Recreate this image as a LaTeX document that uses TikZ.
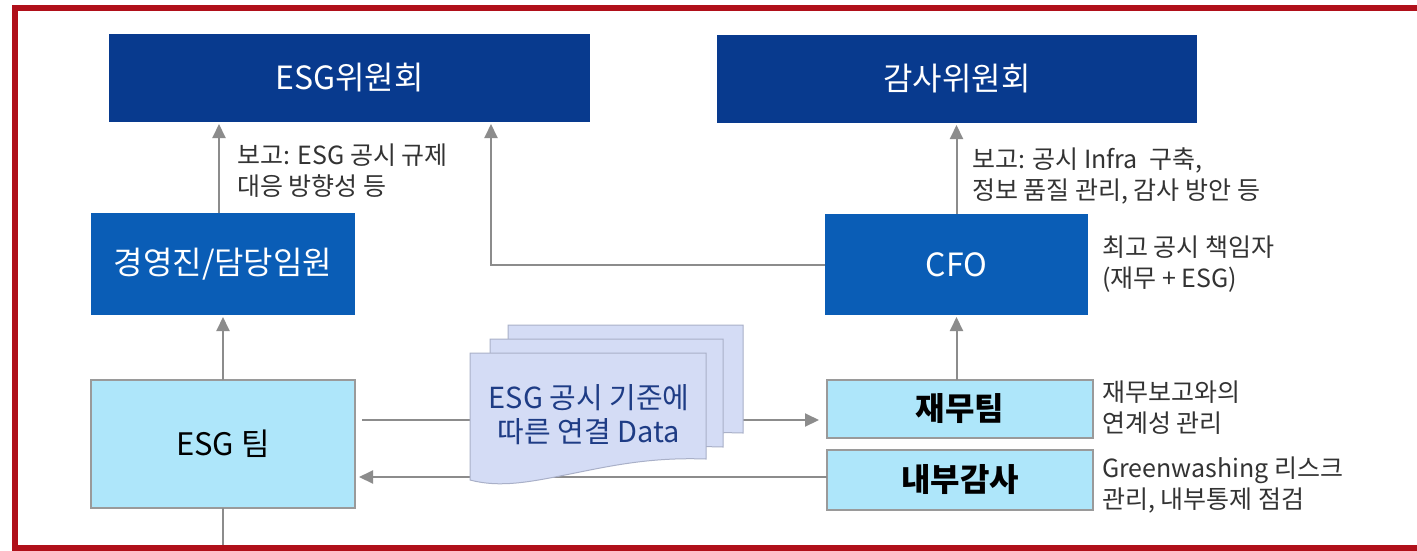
\documentclass[tikz,border=0pt]{standalone}
\usepackage{fontspec}
\setmainfont{Noto Sans CJK KR}
\usetikzlibrary{arrows.meta,calc}
\definecolor{navy}{HTML}{083A8E}
\definecolor{midblue}{HTML}{0A5DB6}
\definecolor{lightcyan}{HTML}{AEE6FA}
\definecolor{boxedge}{HTML}{9A9A9A}
\definecolor{arrowgray}{HTML}{8C8C8C}
\definecolor{docfill}{HTML}{D4DCF5}
\definecolor{docedge}{HTML}{A9B0C8}
\definecolor{doctext}{HTML}{1E3C85}
\definecolor{framered}{HTML}{B0101A}
\definecolor{notegray}{HTML}{333333}
\begin{document}
\begin{tikzpicture}[x=1pt,y=-1pt,
  box/.style={rectangle, inner sep=0pt, outer sep=0pt, anchor=north west},
  darkbox/.style={box, fill=navy, text=white, font=\fontsize{32}{34}\selectfont},
  midbox/.style={box, fill=midblue, text=white, font=\fontsize{32}{34}\selectfont},
  lightbox/.style={box, fill=lightcyan, draw=boxedge, line width=1.3pt, text=black},
  note/.style={anchor=west, inner sep=0pt, align=left, text=notegray, font=\fontsize{25}{31}\selectfont},
  plain/.style={draw=arrowgray, line width=2pt},
  arr/.style={plain, -{Triangle[length=14pt,width=13pt]}},
  doc/.style={fill=docfill, draw=docedge, line width=1pt}]
\useasboundingbox (0,0) rectangle (1417,550);
\fill[white] (0,0) rectangle (1417,550);

% boxes
\node[darkbox, minimum width=481pt, minimum height=88pt] (esgc) at (109,34) {ESG위원회};
\node[darkbox, minimum width=480pt, minimum height=88pt] (audc) at (717,35) {감사위원회};
\node[midbox, minimum width=264pt, minimum height=102pt] (mgmt) at (91,213) {경영진/담당임원};
\node[midbox, minimum width=263pt, minimum height=101pt] (cfo) at (825,214) {CFO};
\node[lightbox, minimum width=264pt, minimum height=128pt, font=\fontsize{31}{34}\selectfont] (esgteam) at (91,380) {ESG 팀};
\node[lightbox, minimum width=266pt, minimum height=58pt, font=\bfseries\fontsize{32}{34}\selectfont] (jaemu) at (827,380) {재무팀};
\node[lightbox, minimum width=266pt, minimum height=60pt, font=\bfseries\fontsize{32}{34}\selectfont] (naebu) at (827,450) {내부감사};

% connectors
\draw[arr, shorten >=2pt] ([xshift=-4pt]mgmt.north) -- ([xshift=-4pt]mgmt.north |- esgc.south);
\draw[arr, shorten >=2pt] (esgteam.north) -- (esgteam.north |- mgmt.south);
\coordinate (bot) at (223,550);
\draw[plain] (esgteam.south) -- (bot);
\draw[arr, shorten >=2pt] (cfo.north) -- (cfo.north |- audc.south);
\draw[arr, shorten >=2pt] (cfo.south |- jaemu.north) -- (cfo.south);
\draw[arr, shorten >=2pt] (cfo.west) -| ([xshift=141.5pt]esgc.south);
\coordinate (s1) at (362,420);
\draw[arr, shorten >=8pt] (s1) -- (s1 -| jaemu.west);
\draw[arr, shorten >=4pt] ([yshift=3pt]naebu.west) -- ([yshift=3pt]naebu.west -| esgteam.east);

% stacked documents
\draw[doc] (508,325) -- (743,325) -- (743,433) .. controls (690,431) and (660,440) .. (620,446) .. controls (580,452) and (540,452) .. (508,446) -- cycle;
\draw[doc] (490,339) -- (723,339) -- (723,447) .. controls (670,445) and (640,454) .. (600,460) .. controls (560,466) and (520,466) .. (490,460) -- cycle;
\draw[doc] (470,353) -- (706,353) -- (706,459) .. controls (650,457) and (610,466) .. (570,474) .. controls (530,482) and (500,488) .. (470,480) -- cycle;
\node[inner sep=0pt, align=center, text=doctext, font=\fontsize{29}{34}\selectfont] (data) at (589,415) {ESG 공시 기준에\\따른 연결 Data};

% notes
\node[note] (n1) at (237,171) {보고: ESG 공시 규제\\대응 방향성 등};
\node[note] (n2) at (972,176) {보고: 공시 Infra\ \ 구축,\\정보 품질 관리, 감사 방안 등};
\node[note] (n3) at (1102,264) {최고 공시 책임자\\(재무 + ESG)};
\node[note] (n4) at (1102,408) {재무보고와의\\연계성 관리};
\node[note] (n5) at (1102,485) {Greenwashing 리스크\\관리, 내부통제 점검};

% frame
\draw[framered, line width=6pt] (1420,7.5) -- (14.5,7.5) -- (14.5,547.5) -- (1420,547.5);
\end{tikzpicture}
\end{document}
